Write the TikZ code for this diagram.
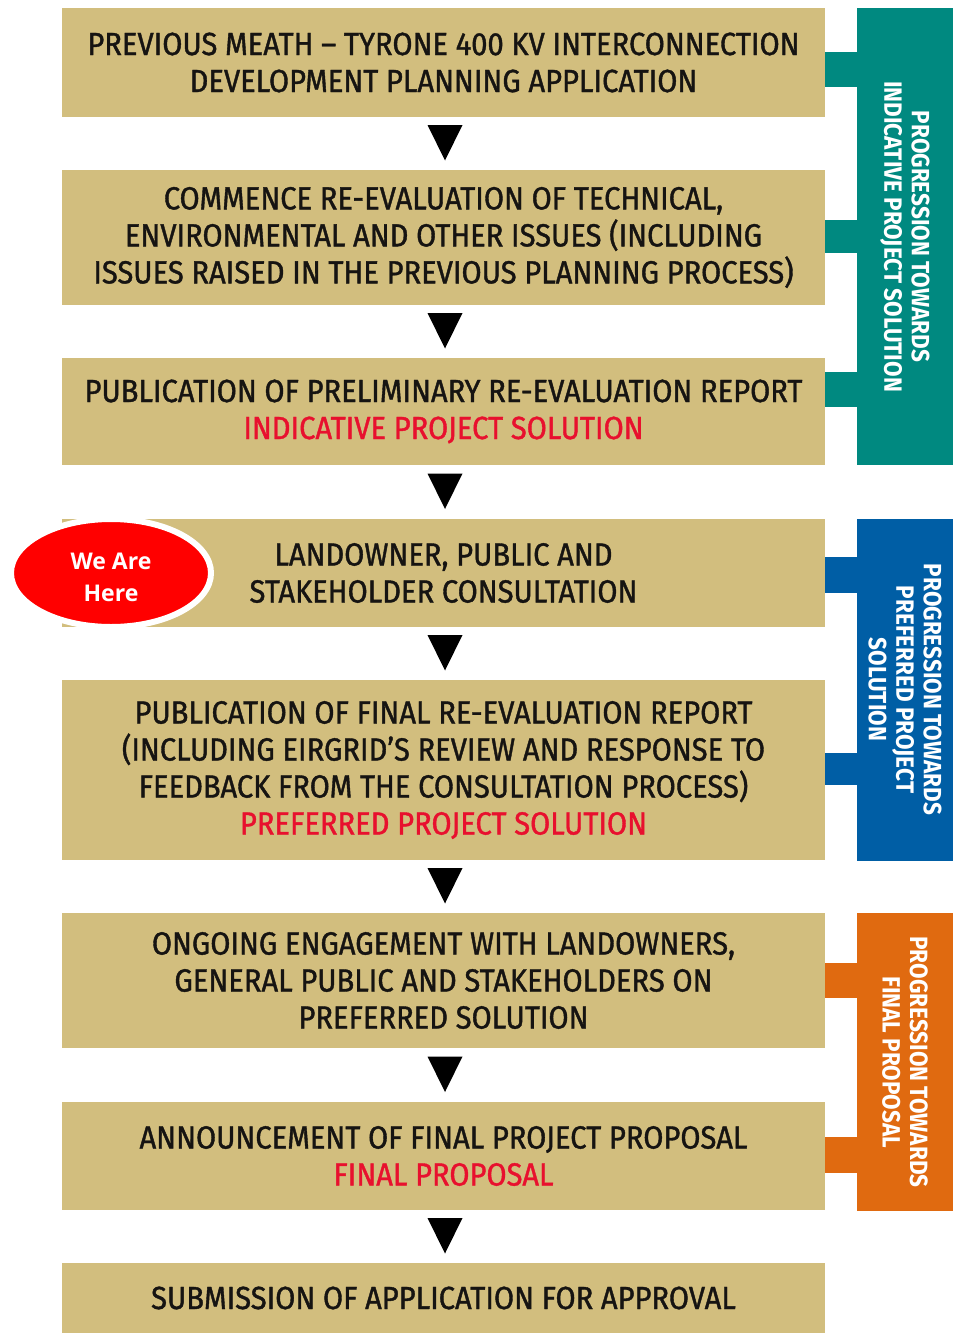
\documentclass[tikz,border=0pt]{standalone}
\usepackage{fontspec}
\setmainfont{Fira Sans}[FakeStretch=0.91, FakeBold=1.2]
\newfontfamily\sidefont{Fira Sans}[FakeStretch=0.9]
\newfontfamily\wefont{Open Sans}
\usetikzlibrary{calc,shapes.geometric}
\definecolor{beige}{RGB}{210,190,126}
\definecolor{tealbar}{RGB}{0,137,128}
\definecolor{bluebar}{RGB}{0,94,165}
\definecolor{orangebar}{RGB}{224,106,16}
\definecolor{redtxt}{RGB}{232,16,46}
\definecolor{darktxt}{RGB}{22,20,18}
\tikzset{
  stepbox/.style={fill=beige, draw=none, minimum width=763pt, inner sep=0pt,
    align=center, text=darktxt, font=\fontsize{32}{37}\selectfont},
  bar/.style={draw=none, minimum width=96pt, inner sep=0pt},
  bartext/.style={rotate=-90, align=center, text=white,
    font=\sidefont\bfseries\fontsize{25}{27.5}\selectfont},
  tri/.style={fill=black},
}
\newcommand{\hl}[1]{\textcolor{redtxt}{#1}}
\begin{document}
\begin{tikzpicture}[x=1pt,y=-1pt]
\useasboundingbox (0,0) rectangle (961,1333);
% step boxes
\node[stepbox, minimum height=109pt] (b1) at (443.5,62.5)
  {PREVIOUS MEATH -- TYRONE 400 KV INTERCONNECTION\\DEVELOPMENT PLANNING APPLICATION};
\node[stepbox, minimum height=135pt] (b2) at (443.5,237.5)
  {COMMENCE RE-EVALUATION OF TECHNICAL,\\ENVIRONMENTAL AND OTHER ISSUES (INCLUDING\\ISSUES RAISED IN THE PREVIOUS PLANNING PROCESS)};
\node[stepbox, minimum height=107pt] (b3) at (443.5,411.5)
  {PUBLICATION OF PRELIMINARY RE-EVALUATION REPORT\\\hl{INDICATIVE PROJECT SOLUTION}};
\node[stepbox, minimum height=108pt] (b4) at (443.5,573)
  {LANDOWNER, PUBLIC AND\\STAKEHOLDER CONSULTATION};
\node[stepbox, minimum height=180pt] (b5) at (443.5,770)
  {PUBLICATION OF FINAL RE-EVALUATION REPORT\\(INCLUDING EIRGRID'S REVIEW AND RESPONSE TO\\FEEDBACK FROM THE CONSULTATION PROCESS)\\\hl{PREFERRED PROJECT SOLUTION}};
\node[stepbox, minimum height=135pt] (b6) at (443.5,980.5)
  {ONGOING ENGAGEMENT WITH LANDOWNERS,\\GENERAL PUBLIC AND STAKEHOLDERS ON\\PREFERRED SOLUTION};
\node[stepbox, minimum height=108pt] (b7) at (443.5,1156)
  {ANNOUNCEMENT OF FINAL PROJECT PROPOSAL\\\hl{FINAL PROPOSAL}};
\node[stepbox, minimum height=70pt] (b8) at (443.5,1298)
  {SUBMISSION OF APPLICATION FOR APPROVAL};
% arrows between boxes
\foreach \a/\b in {b1/b2,b2/b3,b3/b4,b4/b5,b5/b6,b6/b7,b7/b8}{
  \coordinate (m\a) at ($(\a.south)!0.5!(\b.north)+(1.5,0)$);
  \fill[tri] ($(m\a)+(-17.5,-18.5)$) -- ($(m\a)+(17.5,-18.5)$) -- ($(m\a)+(0,17)$) -- cycle;
}
% side bars
\node[bar, fill=tealbar, minimum height=457pt] (s1) at (905,236.5) {};
\node[bar, fill=bluebar, minimum height=342pt] (s2) at (905,689.5) {};
\node[bar, fill=orangebar, minimum height=298pt] (s3) at (905,1062) {};
% tabs
\fill[tealbar] (b1.east |- 0,52) rectangle (s1.west |- 0,87);
\fill[tealbar] (b2.east |- 0,220) rectangle (s1.west |- 0,253);
\fill[tealbar] (b3.east |- 0,372) rectangle (s1.west |- 0,407);
\fill[bluebar] (b4.east |- 0,557) rectangle (s2.west |- 0,593);
\fill[bluebar] (b5.east |- 0,753) rectangle (s2.west |- 0,785);
\fill[orangebar] (b6.east |- 0,963) rectangle (s3.west |- 0,998);
\fill[orangebar] (b7.east |- 0,1137) rectangle (s3.west |- 0,1173);
% side texts
\node[bartext] (t1) at (s1.center) {PROGRESSION TOWARDS\\INDICATIVE PROJECT SOLUTION};
\node[bartext] (t2) at (s2.center) {PROGRESSION TOWARDS\\PREFERRED PROJECT\\SOLUTION};
\node[bartext] (t3) at (s3.center) {PROGRESSION TOWARDS\\FINAL PROPOSAL};
% we are here
\node[ellipse, fill=red, draw=white, line width=6pt, minimum width=200pt, minimum height=108pt,
  inner sep=0pt] (here) at (111,573) {};
\node[align=center, text=white, font=\wefont\bfseries\fontsize{23}{32}\selectfont, inner sep=0pt]
  (heretext) at ($(here.center)+(0,4)$) {We Are\\Here};
\end{tikzpicture}
\end{document}
